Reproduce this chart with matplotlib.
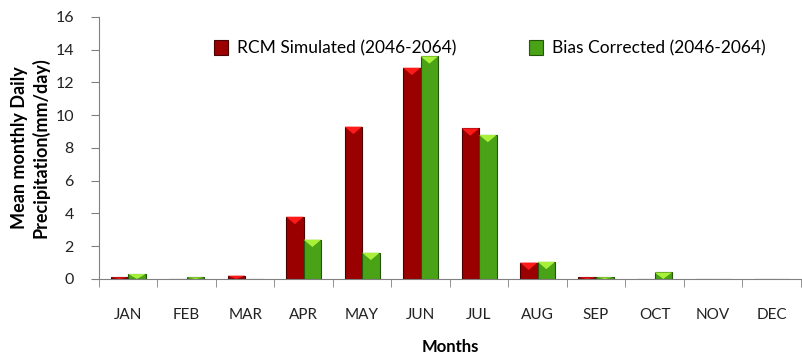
import matplotlib
matplotlib.use('Agg')
import matplotlib.pyplot as plt
from matplotlib.patches import Polygon
import numpy as np

plt.rcParams['font.family'] = ['Lato', 'DejaVu Sans']

months = ['JAN', 'FEB', 'MAR', 'APR', 'MAY', 'JUN', 'JUL', 'AUG', 'SEP', 'OCT', 'NOV', 'DEC']
rcm_sim = [0.1, 0.0, 0.2, 3.8, 9.3, 12.9, 9.2, 1.0, 0.1, 0.0, 0.0, 0.0]
bias_corr = [0.3, 0.1, 0.0, 2.4, 1.6, 13.6, 8.8, 1.05, 0.1, 0.4, 0.0, 0.0]

x = np.arange(len(months))
w = 0.3

fig = plt.figure(figsize=(8.02, 3.54), dpi=100)
ax = fig.add_axes([0.1234, 0.212, 0.875, 0.74])


def bevel_bars(pos, vals, body, edge, top, label):
    bars = ax.bar(pos, vals, w, color=body, edgecolor=edge, linewidth=0.8, label=label, zorder=2)
    # little pointed highlight on the top of each bar
    for b, v in zip(bars, vals):
        if v <= 0:
            continue
        x0 = b.get_x()
        bw = b.get_width()
        h = min(0.45, v)
        tri = Polygon([(x0, v), (x0 + bw, v), (x0 + bw / 2, v - h)],
                      closed=True, facecolor=top, edgecolor='none', zorder=3)
        ax.add_patch(tri)
    return bars


bevel_bars(x - w / 2, rcm_sim, '#9a0000', '#4a0000', '#ff1a1a', 'RCM Simulated (2046-2064)')
bevel_bars(x + w / 2, bias_corr, '#4aa317', '#23550a', '#a8f03a', 'Bias Corrected (2046-2064)')

ax.set_xlim(-0.5, 11.5)
ax.set_ylim(0, 16)
ax.set_yticks(np.arange(0, 17, 2))
ax.set_xticks(x)
ax.set_xticklabels(months)
ax.set_xticks(np.arange(-0.5, 12, 1), minor=True)
ax.tick_params(axis='x', which='major', length=0, pad=21, labelsize=11, colors='#222222')
ax.tick_params(axis='x', which='minor', length=6, direction='out', color='#808080')
ax.tick_params(axis='y', length=6, direction='out', labelsize=11.5, pad=12)
ax.tick_params(axis='y', colors='#808080', labelcolor='#222222')

for s in ['top', 'right']:
    ax.spines[s].set_visible(False)
for s in ['left', 'bottom']:
    ax.spines[s].set_color('#808080')

ax.set_xlabel('Months', fontsize=12, fontweight='bold', labelpad=12)
ax.set_ylabel('Mean monthly Daily\nPrecipitation(mm/day)', fontsize=13, fontweight='bold',
              labelpad=4, linespacing=1.25)

ax.legend(loc='upper center', bbox_to_anchor=(0.557, 0.97), ncol=2, frameon=False,
          fontsize=12.5, handlelength=0.8, handleheight=0.9, columnspacing=4.2, handletextpad=0.5)

fig.savefig('out.png', dpi=100)
